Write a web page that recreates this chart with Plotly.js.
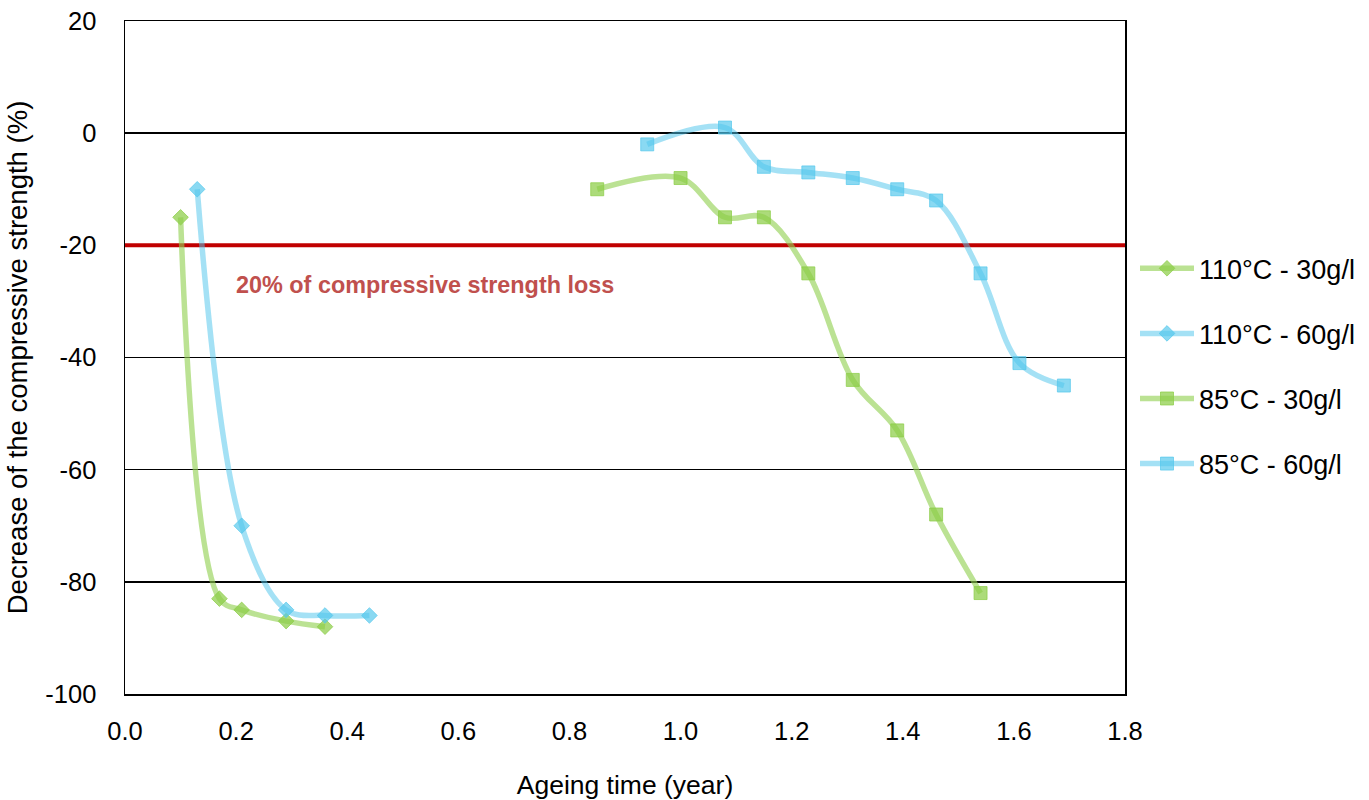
<!DOCTYPE html>
<html>
<head>
<meta charset="utf-8">
<script src="https://cdn.plot.ly/plotly-3.0.1.min.js"></script>
<style>html,body{margin:0;padding:0;background:#fff;}#chart{width:1369px;height:800px;}</style>
</head>
<body>
<div id="chart"></div>
<script>
// Data
const seriesNames = ["110°C - 30g/l", "110°C - 60g/l", "85°C - 30g/l", "85°C - 60g/l"];
const x110_30 = [0.10, 0.17, 0.21, 0.29, 0.36];
const y110_30 = [-15, -83, -85, -87, -88];
const x110_60 = [0.13, 0.21, 0.29, 0.36, 0.44];
const y110_60 = [-10, -70, -85, -86, -86];
const x85_30 = [0.85, 1.00, 1.08, 1.15, 1.23, 1.31, 1.39, 1.46, 1.54];
const y85_30 = [-10, -8, -15, -15, -25, -44, -53, -68, -82];
const x85_60 = [0.94, 1.08, 1.15, 1.23, 1.31, 1.39, 1.46, 1.54, 1.61, 1.69];
const y85_60 = [-2, 1, -6, -7, -8, -10, -12, -25, -41, -45];
const thresholdX = [0, 1.8];
const thresholdY = [-20, -20];
const thresholdLabel = "20% of compressive strength loss";
const xTickVals = [0, 0.2, 0.4, 0.6, 0.8, 1.0, 1.2, 1.4, 1.6, 1.8];
const xTickText = ["0.0", "0.2", "0.4", "0.6", "0.8", "1.0", "1.2", "1.4", "1.6", "1.8"];
const yTickVals = [20, 0, -20, -40, -60, -80, -100];
const yTickText = ["20", "0", "-20", "-40", "-60", "-80", "-100"];

const green = "rgba(146,208,80,0.62)";
const greenM = "rgba(140,205,70,0.72)";
const blue = "rgba(80,198,235,0.52)";
const blueM = "rgba(80,198,235,0.67)";

function series(x, y, name, lineC, markC, symbol, size, group) {
  return {
    x: x, y: y, name: name, type: "scatter", mode: "lines+markers",
    legendgroup: group,
    line: {color: lineC, width: 5.5, shape: "spline", smoothing: 1},
    marker: {color: markC, symbol: symbol, size: size, line: {color: markC, width: 1}}
  };
}

const traces = [
  {x: thresholdX, y: thresholdY, type: "scatter", mode: "lines", showlegend: false,
   line: {color: "#C00000", width: 4}, cliponaxis: false, hoverinfo: "skip"},
  series(x110_30, y110_30, seriesNames[0], green, greenM, "diamond", 12, "g1"),
  series(x110_60, y110_60, seriesNames[1], blue, blueM, "diamond", 12, "g2"),
  series(x85_30, y85_30, seriesNames[2], green, greenM, "square", 13, "g3"),
  series(x85_60, y85_60, seriesNames[3], blue, blueM, "square", 13, "g4")
];

const fam = "Liberation Sans, Arial, sans-serif";
const tickFont = {family: fam, size: 25.5, color: "#000"};

const layout = {
  width: 1369, height: 800,
  margin: {l: 125, r: 244, t: 21, b: 106, autoexpand: false},
  paper_bgcolor: "#fff", plot_bgcolor: "#fff",
  font: tickFont,
  showlegend: true,
  legend: {x: 1.01, xanchor: "left", y: 0.487, yanchor: "middle",
           font: {family: fam, size: 27, color: "#000"},
           traceorder: "grouped", tracegroupgap: 27, itemwidth: 54, bgcolor: "rgba(0,0,0,0)"},
  xaxis: {
    range: [0, 1.8], tickvals: xTickVals, ticktext: xTickText,
    showgrid: false, zeroline: false, showline: true, mirror: true,
    linecolor: "#000", linewidth: 1.5, ticks: "", ticklabelstandoff: 14,
    tickfont: tickFont, automargin: false,
    title: {text: "Ageing time (year)", font: {family: fam, size: 26.5, color: "#000"}, standoff: 32}
  },
  yaxis: {
    range: [-100, 20], tickvals: yTickVals, ticktext: yTickText,
    showgrid: true, gridcolor: "#000", gridwidth: 1.5, zeroline: false,
    showline: true, mirror: true, linecolor: "#000", linewidth: 1.5,
    ticks: "", ticklabelstandoff: 22, tickfont: tickFont, automargin: false,
    title: {text: "Decrease of the compressive strength (%)", font: {family: fam, size: 27.5, color: "#000"}, standoff: 9}
  },
  annotations: [{
    x: 0.197, y: -27, xref: "x", yref: "y", xanchor: "left", yanchor: "middle",
    text: "<b>" + thresholdLabel + "</b>", showarrow: false,
    font: {family: fam, size: 23.4, color: "#C0504D"}
  }]
};

Plotly.newPlot("chart", traces, layout, {displayModeBar: false, staticPlot: true});
</script>
</body>
</html>
